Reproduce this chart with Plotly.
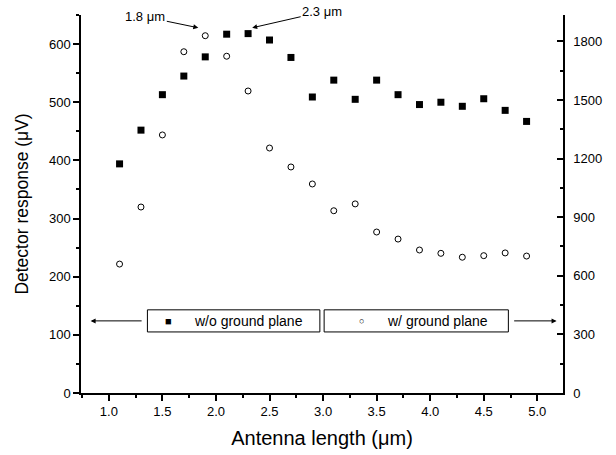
import plotly.graph_objects as go

# Data
antenna_length = [1.1, 1.3, 1.5, 1.7, 1.9, 2.1, 2.3, 2.5, 2.7, 2.9,
                  3.1, 3.3, 3.5, 3.7, 3.9, 4.1, 4.3, 4.5, 4.7, 4.9]
wo_ground = [394, 452, 513, 545, 578, 617, 618, 607, 577, 509,
             538, 505, 538, 513, 496, 500, 493, 506, 486, 467]
w_ground = [660, 952, 1321, 1747, 1829, 1724, 1546, 1254, 1157, 1070,
            933, 968, 824, 788, 732, 715, 695, 703, 717, 701]

left_ticks = [0, 100, 200, 300, 400, 500, 600]
right_ticks = [0, 300, 600, 900, 1200, 1500, 1800]
x_ticks = [1.0, 1.5, 2.0, 2.5, 3.0, 3.5, 4.0, 4.5, 5.0]

FONT = "Liberation Sans, Arial, sans-serif"

fig = go.Figure()
fig.add_trace(go.Scatter(
    x=antenna_length, y=wo_ground, mode="markers", name="w/o ground plane",
    marker=dict(symbol="square", size=7, color="black"), yaxis="y"))
fig.add_trace(go.Scatter(
    x=antenna_length, y=w_ground, mode="markers", name="w/ ground plane",
    marker=dict(symbol="circle-open", size=6, color="black", line=dict(width=1)),
    yaxis="y2"))

axis_common = dict(showline=True, linecolor="black", linewidth=1.5, automargin=False,
                   showgrid=False, zeroline=False, ticklen=6, tickwidth=1.5,
                   tickcolor="black", tickfont=dict(family=FONT, size=13, color="black"))

fig.update_layout(
    width=616, height=455,
    margin=dict(l=81, r=53, t=15, b=62, autoexpand=False),
    paper_bgcolor="white", plot_bgcolor="white",
    font=dict(family=FONT, color="black"),
    showlegend=False,
    xaxis=dict(range=[0.74, 5.24], tickvals=x_ticks, ticktext=[f"{v:.1f}" for v in x_ticks],
               ticks="outside",
               minor=dict(dtick=0.25, tick0=0.75, ticks="outside", ticklen=3, tickcolor="black"),
               title=dict(text="Antenna length (μm)", font=dict(family=FONT, size=20), standoff=13),
               **axis_common),
    yaxis=dict(range=[0, 650], tickvals=left_ticks, ticks="outside",
               minor=dict(dtick=50, ticks="outside", ticklen=3, tickcolor="black"),
               title=dict(text="Detector response (μV)", font=dict(family=FONT, size=17.5), standoff=16),
               **axis_common),
    yaxis2=dict(range=[0, 1935], tickvals=right_ticks, ticks="inside", overlaying="y",
                side="right", anchor="x", ticklabelstandoff=6,
                minor=dict(dtick=150, ticks="inside", ticklen=3, tickcolor="black"),
                **axis_common),
)

# Legend boxes (drawn manually, as in the original figure)
for x0, x1 in [(1.36, 2.97), (3.01, 4.73)]:
    fig.add_shape(type="rect", xref="x", yref="y", x0=x0, x1=x1, y0=105, y1=143,
                  line=dict(color="black", width=1), fillcolor="white", layer="above")
fig.add_annotation(x=1.557, y=124, text="■", showarrow=False, xref="x", yref="y",
                   font=dict(family=FONT, size=11))
fig.add_annotation(x=1.78, y=124, text="w/o ground plane", showarrow=False, xref="x", yref="y",
                   xanchor="left", font=dict(family=FONT, size=14))
fig.add_annotation(x=3.363, y=124, text="○", showarrow=False, xref="x", yref="y",
                   font=dict(family=FONT, size=9))
fig.add_annotation(x=3.577, y=124, text="w/ ground plane", showarrow=False, xref="x", yref="y",
                   xanchor="left", font=dict(family=FONT, size=14))

# Arrows for legend direction
arrow = dict(showarrow=True, arrowhead=2, arrowsize=1, arrowwidth=1, arrowcolor="black",
             text="", xref="x", yref="y", axref="x", ayref="y")
fig.add_annotation(x=0.83, y=124, ax=1.32, ay=124, **arrow)
fig.add_annotation(x=5.18, y=124, ax=4.77, ay=124, **arrow)

# Peak annotations
fig.add_annotation(x=1.835, y=628, ax=-53, ay=-11, text="1.8 μm", showarrow=True,
                   arrowhead=2, arrowsize=1, arrowwidth=1, arrowcolor="black",
                   font=dict(family=FONT, size=13))
fig.add_annotation(x=2.338, y=628, ax=70, ay=-16, text="2.3 μm", showarrow=True,
                   arrowhead=2, arrowsize=1, arrowwidth=1, arrowcolor="black",
                   font=dict(family=FONT, size=13))

fig.write_html("out.html", config={"displayModeBar": False},
               post_script="document.body.style.margin='0';")
